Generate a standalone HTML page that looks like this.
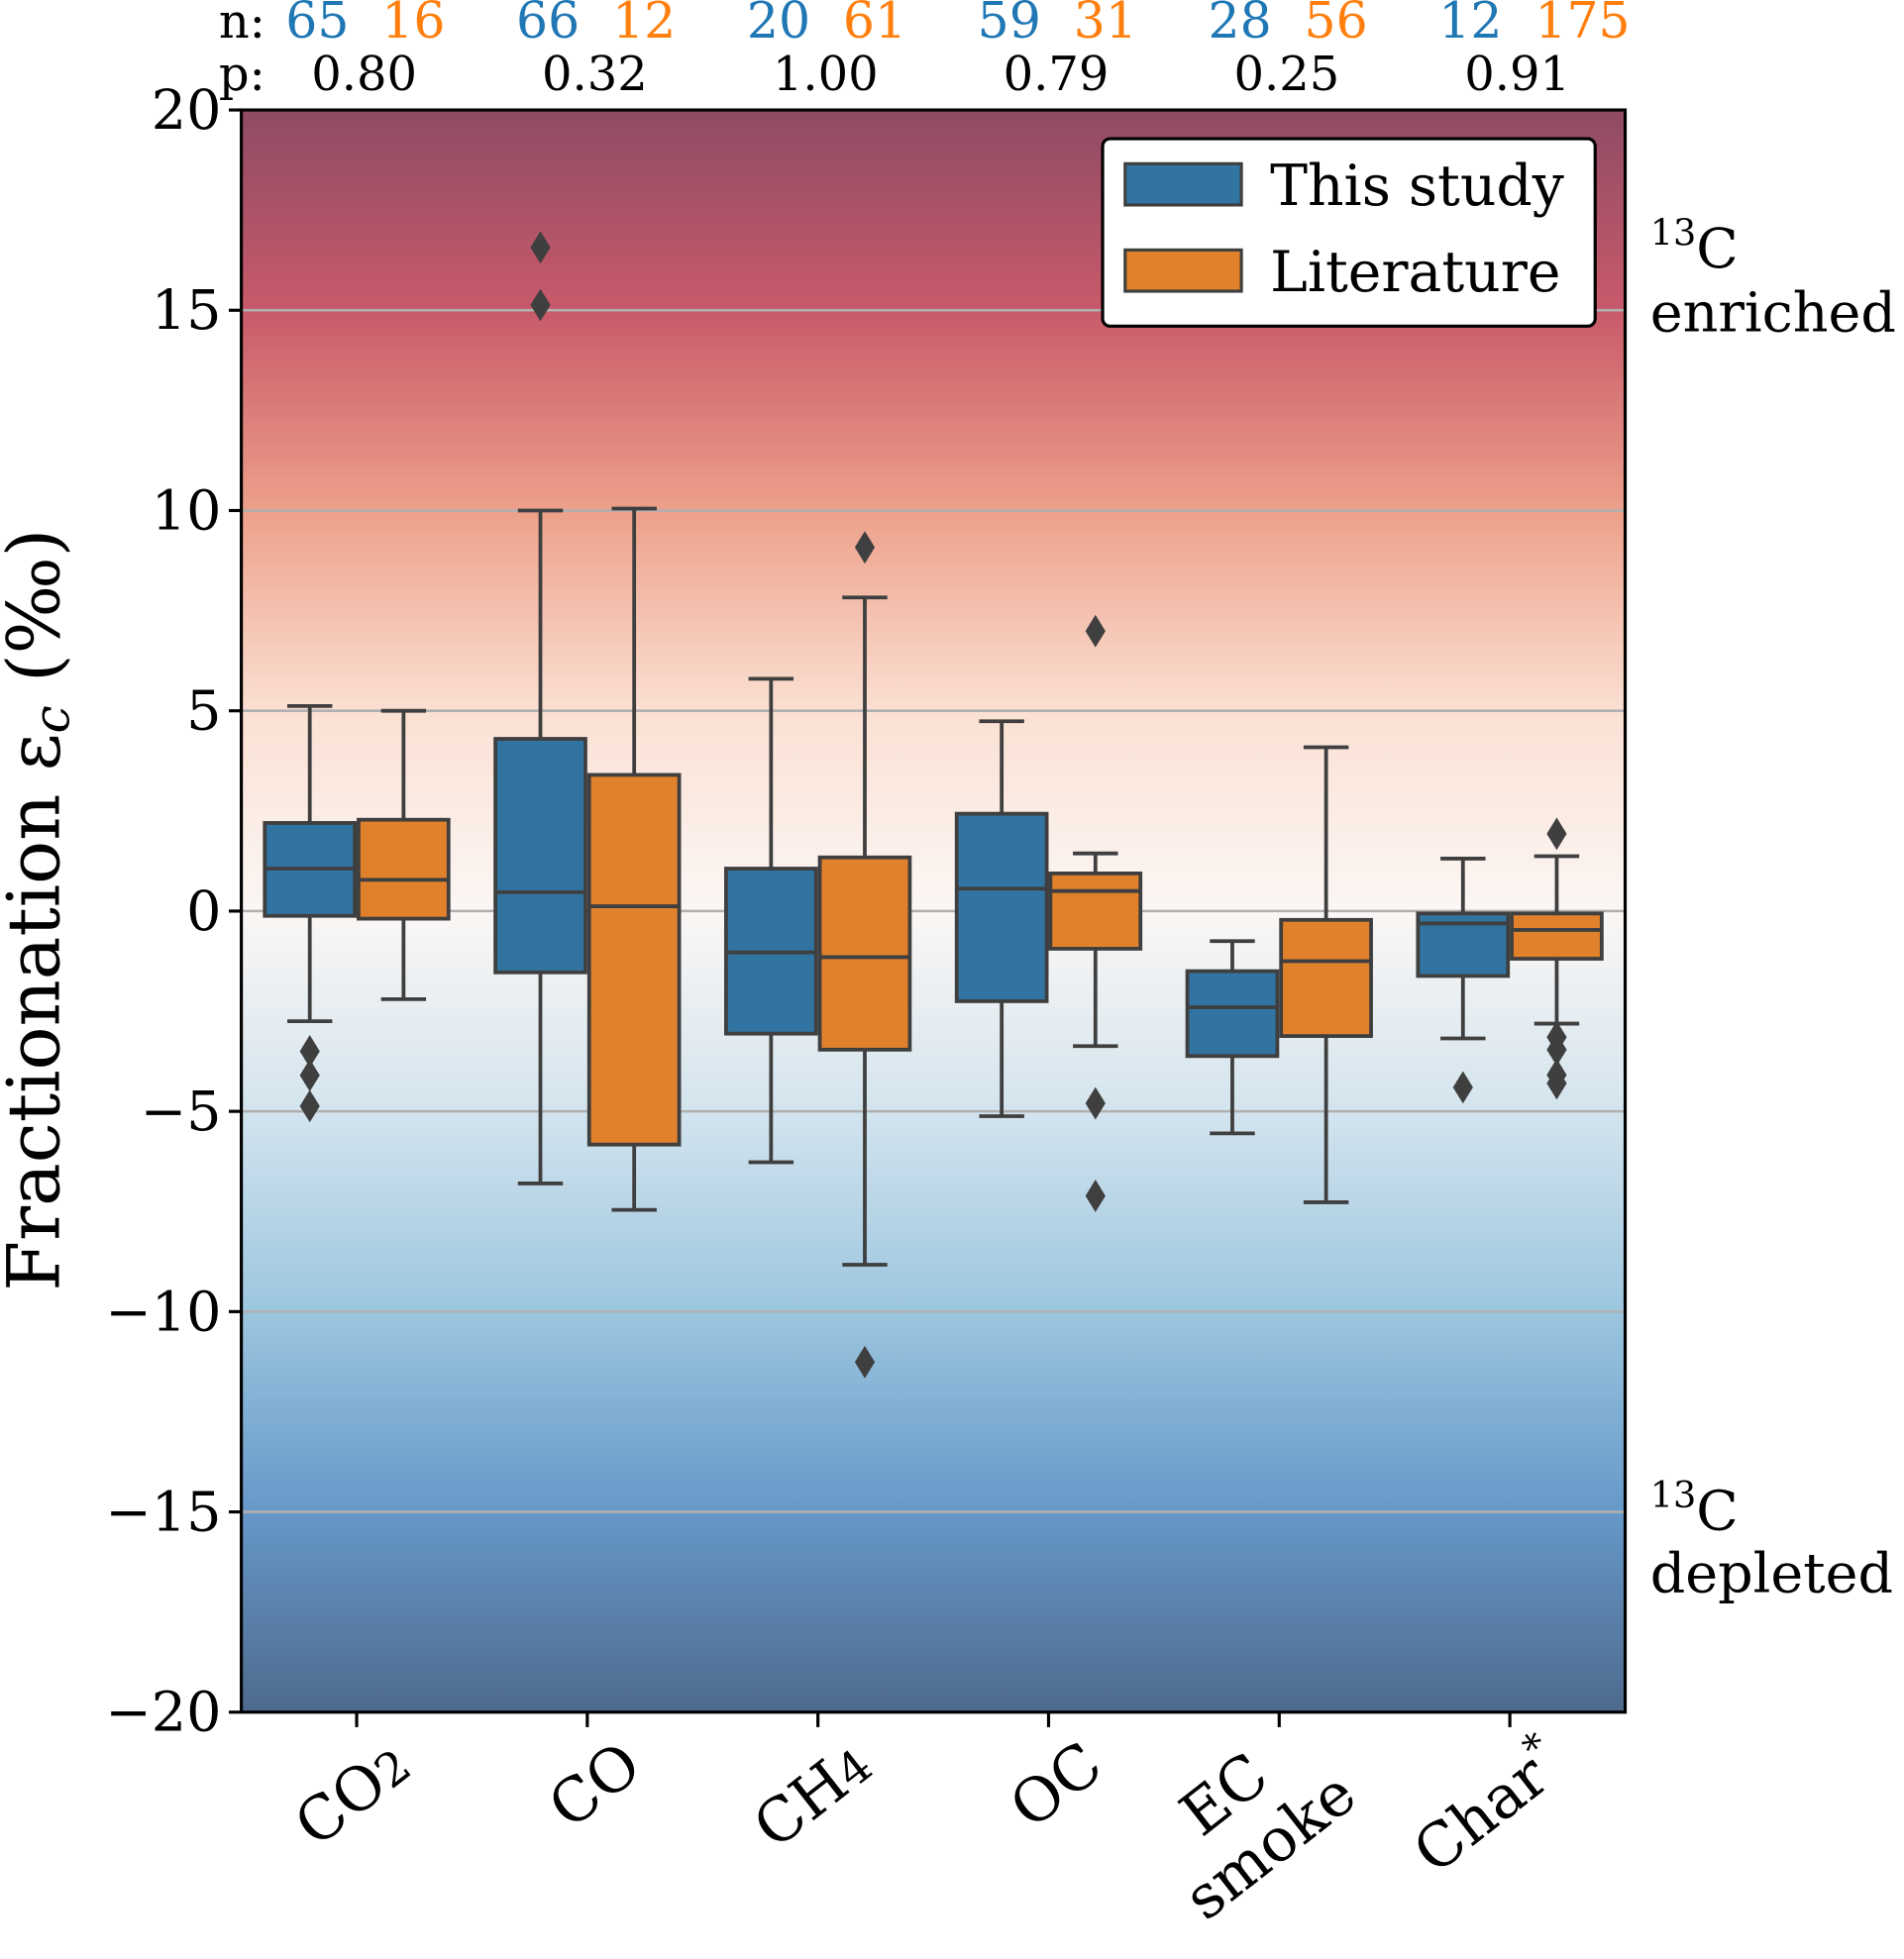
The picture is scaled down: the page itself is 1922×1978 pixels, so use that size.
<!DOCTYPE html>
<html><head><meta charset="utf-8"><style>html,body{margin:0;padding:0;background:#fff}svg{display:block}text{font-family:"DejaVu Serif","Liberation Serif",serif}</style></head>
<body>
<svg id="chart" width="1922" height="1978" viewBox="0 0 1523 1567.5" xmlns="http://www.w3.org/2000/svg">
<defs>
<linearGradient id="bg" x1="0" y1="0" x2="0" y2="1">
<stop offset="0" stop-color="#8f4b64"/>
<stop offset="0.125" stop-color="#c85a6a"/>
<stop offset="0.25" stop-color="#eda08a"/>
<stop offset="0.375" stop-color="#fbe0d3"/>
<stop offset="0.5" stop-color="#fbf7f5"/>
<stop offset="0.625" stop-color="#d3e4ee"/>
<stop offset="0.75" stop-color="#9cc6df"/>
<stop offset="0.875" stop-color="#6698c8"/>
<stop offset="1" stop-color="#4e6a8d"/>
</linearGradient>
</defs>
<rect x="193" y="88" width="1107" height="1282" fill="url(#bg)"/>
<g id="grid"></g>
<g id="boxes"></g>
<rect x="193" y="88" width="1107" height="1282" fill="none" stroke="#000" stroke-width="2.5"/>
<g id="axes"></g>
<g id="legend">
<rect x="882" y="111" width="394" height="150" rx="6" fill="#fff" stroke="#000" stroke-width="2.5"/>
<rect x="900" y="131" width="93" height="33" fill="#3274a1" stroke="#3f3f3f" stroke-width="2.5"/>
<text x="1016" y="164" font-size="45">This study</text>
<rect x="900" y="200" width="93" height="33" fill="#e1812c" stroke="#3f3f3f" stroke-width="2.5"/>
<text x="1016" y="233" font-size="45">Literature</text>
</g>
<text x="1320" y="214" font-size="44"><tspan font-size="29" dy="-18">13</tspan><tspan dy="18">C</tspan></text>
<text x="1320" y="265" font-size="44">enriched</text>
<text x="1320" y="1224" font-size="44"><tspan font-size="29" dy="-18">13</tspan><tspan dy="18">C</tspan></text>
<text x="1320" y="1274" font-size="44">depleted</text>
<text transform="translate(47,728) rotate(-90)" text-anchor="middle" font-size="58">Fractionation ε<tspan font-style="italic" font-size="40" dy="8">c</tspan><tspan dy="-8"> (‰)</tspan></text>
<text x="175" y="30" font-size="38">n:</text>
<text x="175" y="72" font-size="38">p:</text>
</svg>
<script>
const categories = ["CO2","CO","CH4","OC","EC smoke","Char*"];
const nStudy = [65,66,20,59,28,12];
const nLit = [16,12,61,31,56,175];
const pValues = ["0.80","0.32","1.00","0.79","0.25","0.91"];
// [whiskerLow, q1, median, q3, whiskerHigh]
const studyStats = [[-2.75,-0.12,1.06,2.2,5.12],[-6.8,-1.53,0.47,4.3,10.0],[-6.27,-3.06,-1.03,1.06,5.8],[-5.12,-2.25,0.56,2.43,4.74],[-5.55,-3.62,-2.4,-1.5,-0.75],[-3.18,-1.62,-0.31,-0.06,1.31]];
const litStats = [[-2.2,-0.19,0.78,2.28,5.0],[-7.46,-5.83,0.12,3.4,10.05],[-8.83,-3.46,-1.15,1.34,7.83],[-3.37,-0.94,0.5,0.94,1.44],[-7.27,-3.12,-1.25,-0.22,4.09],[-2.81,-1.19,-0.47,-0.06,1.37]];
const studyOutliers = [[-3.5,-4.1,-4.87],[16.57,15.13],[],[],[],[-4.4]];
const litOutliers = [[],[],[9.08,-11.26],[6.99,-4.8,-7.11],[],[1.93,-3.15,-3.46,-4.09,-4.3]];
const yTicks = [20,15,10,5,0,-5,-10,-15,-20];

const NS="http://www.w3.org/2000/svg";
const X0=193,X1=1300,Y0=88,Y1=1370;
function y(v){return Y0+(20-v)/40*(Y1-Y0);}
function xc(i){return X0+(X1-X0)*(i+0.5)/categories.length;}
function mk(tag,attrs,parent){const e=document.createElementNS(NS,tag);for(const k in attrs)e.setAttribute(k,attrs[k]);parent.appendChild(e);return e;}
const grid=document.getElementById('grid'),boxes=document.getElementById('boxes'),axes=document.getElementById('axes'),svg=document.getElementById('chart');
yTicks.forEach(t=>{
  if(t!==20&&t!==-20){const g=mk('line',{x1:X0,x2:X1,y1:y(t),y2:y(t),stroke:'#b0b0b0','stroke-width':2},grid);
  
  }
  const tk=mk('line',{x1:X0-10,x2:X0,y1:y(t),y2:y(t),stroke:'#000','stroke-width':2.5},axes);
  
  
  const lb=mk('text',{x:X0-16,y:y(t)+15,'text-anchor':'end','font-size':44},axes);
  
  
  lb.textContent=(t<0?'\u2212'+(-t):''+t);
});
const HW=36,OFF=37.5;
function drawBox(cx,s,outs,fill,name){
  const g=mk('g',{},boxes);
  
  
  const st={stroke:'#3f3f3f','stroke-width':3};
  mk('line',Object.assign({x1:cx,x2:cx,y1:y(s[0]),y2:y(s[1])},st),g);
  mk('line',Object.assign({x1:cx,x2:cx,y1:y(s[3]),y2:y(s[4])},st),g);
  mk('line',Object.assign({x1:cx-HW/2,x2:cx+HW/2,y1:y(s[0]),y2:y(s[0])},st),g);
  mk('line',Object.assign({x1:cx-HW/2,x2:cx+HW/2,y1:y(s[4]),y2:y(s[4])},st),g);
  mk('rect',Object.assign({x:cx-HW,width:2*HW,y:y(s[3]),height:y(s[1])-y(s[3]),fill:fill},st),g);
  mk('line',Object.assign({x1:cx-HW,x2:cx+HW,y1:y(s[2]),y2:y(s[2])},st),g);
  outs.forEach(o=>{const d=mk('path',{d:`M${cx} ${y(o)-13}L${cx+8} ${y(o)}L${cx} ${y(o)+13}L${cx-8} ${y(o)}Z`,fill:'#3f3f3f'},g);
    
    });
}
categories.forEach((c,i)=>{
  const cx=xc(i);
  drawBox(cx-OFF,studyStats[i],studyOutliers[i],'#3274a1','box-this-study-'+i);
  drawBox(cx+OFF,litStats[i],litOutliers[i],'#e1812c','box-literature-'+i);
  const tk=mk('line',{x1:cx,x2:cx,y1:Y1,y2:Y1+12,stroke:'#000','stroke-width':2.5},axes);
  
  
  const n1=mk('text',{x:cx-6,y:30,'text-anchor':'end','font-size':40,fill:'#1f77b4'},svg);
  
  
  n1.textContent=nStudy[i];
  const n2=mk('text',{x:cx+20,y:30,'text-anchor':'start','font-size':40,fill:'#ff7f0e'},svg);
  
  
  n2.textContent=nLit[i];
  const p=mk('text',{x:cx+6,y:72,'text-anchor':'middle','font-size':38},svg);
  
  
  p.textContent=pValues[i];
  const lb=mk('text',{transform:`translate(${cx+46},${Y1+48}) rotate(-38)`,'text-anchor':'end','font-size':48},axes);
  
  
  if(c==='CO2'){lb.innerHTML='CO<tspan font-size="37">2</tspan>';}
  else if(c==='CH4'){lb.innerHTML='CH<tspan font-size="37">4</tspan>';}
  else if(c==='Char*'){lb.innerHTML='Char<tspan font-size="31" dy="-21">*</tspan>';}
  else if(c==='EC smoke'){lb.innerHTML='<tspan x="-46" dy="-25">EC</tspan><tspan x="0" dy="55">smoke</tspan>';}
  else lb.textContent=c;
});
</script>
</body></html>
